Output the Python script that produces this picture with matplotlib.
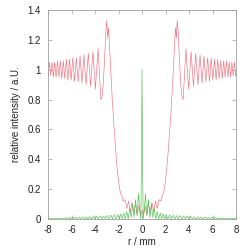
import matplotlib
matplotlib.use("Agg")
import matplotlib.pyplot as plt

# red curve: relative intensity vs r (mm)
red_r = [-8.00, -7.98, -7.87, -7.76, -7.65, -7.54, -7.43, -7.31, -7.19, -7.07,
         -6.95, -6.83, -6.70, -6.57, -6.44, -6.31, -6.17, -6.03, -5.89, -5.74,
         -5.59, -5.43, -5.27, -5.11, -4.94, -4.76, -4.57, -4.38, -4.18, -3.97,
         -3.74, -3.50, -3.40, -3.30, -3.20, -3.08, -3.00, -2.92, -2.86, -2.80,
         -2.70, -2.60, -2.50, -2.40, -2.30, -2.20, -2.10, -2.00, -1.90, -1.80,
         -1.70, -1.60, -1.45, -1.30, -1.15, -1.00, -0.85, -0.70, -0.55, -0.40,
         -0.25, -0.12,
         0.00,
         0.12, 0.25, 0.40, 0.55, 0.70, 0.85, 1.00, 1.15, 1.30, 1.45,
         1.60, 1.70, 1.80, 1.90, 2.00, 2.10, 2.20, 2.30, 2.40, 2.50,
         2.60, 2.70, 2.80, 2.86, 2.92, 3.00, 3.08, 3.20, 3.30, 3.40,
         3.50, 3.74, 3.97, 4.18, 4.38, 4.57, 4.76, 4.94, 5.11, 5.27,
         5.43, 5.59, 5.74, 5.89, 6.03, 6.17, 6.31, 6.44, 6.57, 6.70,
         6.83, 6.95, 7.07, 7.19, 7.31, 7.43, 7.54, 7.65, 7.76, 7.87,
         7.98, 8.00]
red_i = [0.97, 0.96, 1.05, 0.96, 1.05, 0.95, 1.05, 0.95, 1.06, 0.95,
         1.06, 0.94, 1.06, 0.94, 1.07, 0.93, 1.07, 0.93, 1.08, 0.92,
         1.08, 0.92, 1.09, 0.91, 1.10, 0.90, 1.11, 0.89, 1.12, 0.87,
         1.14, 0.80, 0.82, 0.90, 1.05, 1.25, 1.33, 1.21, 1.28, 1.22,
         1.06, 0.90, 0.76, 0.64, 0.53, 0.42, 0.33, 0.26, 0.20, 0.17,
         0.15, 0.12, 0.13, 0.07, 0.12, 0.05, 0.11, 0.04, 0.10, 0.03,
         0.09, 0.02,
         0.06,
         0.02, 0.09, 0.03, 0.10, 0.04, 0.11, 0.05, 0.12, 0.07, 0.13,
         0.12, 0.15, 0.17, 0.20, 0.26, 0.33, 0.42, 0.53, 0.64, 0.76,
         0.90, 1.06, 1.22, 1.28, 1.21, 1.33, 1.25, 1.05, 0.90, 0.82,
         0.80, 1.14, 0.87, 1.12, 0.89, 1.11, 0.90, 1.10, 0.91, 1.09,
         0.92, 1.08, 0.92, 1.08, 0.93, 1.07, 0.93, 1.07, 0.94, 1.06,
         0.94, 1.06, 0.95, 1.06, 0.95, 1.05, 0.95, 1.05, 0.96, 1.05,
         0.96, 0.97]

# green curve
green_r = [-8.00, -7.90, -7.75, -7.60, -7.45, -7.30, -7.15, -7.00, -6.85, -6.70,
           -6.55, -6.40, -6.25, -6.10, -5.95, -5.80, -5.65, -5.50, -5.35, -5.20,
           -5.05, -4.90, -4.75, -4.60, -4.45, -4.30, -4.15, -4.00, -3.85, -3.70,
           -3.55, -3.40, -3.25, -3.10, -2.95, -2.80, -2.65, -2.50, -2.35, -2.20,
           -2.05, -1.92, -1.80, -1.67, -1.55, -1.42, -1.30, -1.17, -1.05, -0.92,
           -0.80, -0.68, -0.55, -0.42, -0.30, -0.18, -0.10, -0.05,
           0.00,
           0.05, 0.10, 0.18, 0.30, 0.42, 0.55, 0.68, 0.80, 0.92, 1.05,
           1.17, 1.30, 1.42, 1.55, 1.67, 1.80, 1.92, 2.05, 2.20, 2.35,
           2.50, 2.65, 2.80, 2.95, 3.10, 3.25, 3.40, 3.55, 3.70, 3.85,
           4.00, 4.15, 4.30, 4.45, 4.60, 4.75, 4.90, 5.05, 5.20, 5.35,
           5.50, 5.65, 5.80, 5.95, 6.10, 6.25, 6.40, 6.55, 6.70, 6.85,
           7.00, 7.15, 7.30, 7.45, 7.60, 7.75, 7.90, 8.00]
green_i = [0.002, 0.0, 0.005, 0.0, 0.006, 0.0, 0.007, 0.0, 0.008, 0.0,
           0.009, 0.0, 0.010, 0.0, 0.011, 0.0, 0.012, 0.0, 0.013, 0.0,
           0.014, 0.0, 0.015, 0.0, 0.016, 0.0, 0.018, 0.0, 0.019, 0.0,
           0.020, 0.0, 0.022, 0.0, 0.024, 0.0, 0.026, 0.0, 0.028, 0.0,
           0.030, 0.00, 0.035, 0.00, 0.04, 0.00, 0.05, 0.00, 0.07, 0.01,
           0.10, 0.01, 0.13, 0.02, 0.17, 0.05, 0.00, 0.35,
           1.00,
           0.35, 0.00, 0.05, 0.17, 0.02, 0.13, 0.01, 0.10, 0.01, 0.07,
           0.00, 0.05, 0.00, 0.04, 0.00, 0.035, 0.00, 0.030, 0.0, 0.028,
           0.0, 0.026, 0.0, 0.024, 0.0, 0.022, 0.0, 0.020, 0.0, 0.019,
           0.0, 0.018, 0.0, 0.016, 0.0, 0.015, 0.0, 0.014, 0.0, 0.013,
           0.0, 0.012, 0.0, 0.011, 0.0, 0.010, 0.0, 0.009, 0.0, 0.008,
           0.0, 0.007, 0.0, 0.006, 0.0, 0.005, 0.0, 0.002]

x_ticks = [-8, -6, -4, -2, 0, 2, 4, 6, 8]
x_tick_labels = ["-8", "-6", "-4", "-2", "0", "2", "4", "6", "8"]
y_ticks = [0, 0.2, 0.4, 0.6, 0.8, 1.0, 1.2, 1.4]
y_tick_labels = ["0", "0.2", "0.4", "0.6", "0.8", "1", "1.2", "1.4"]

plt.rcParams['font.family'] = ['Liberation Sans', 'DejaVu Sans']
fig = plt.figure(figsize=(2.5, 2.5), dpi=100)
ax = fig.add_axes([0.192, 0.124, 0.752, 0.836])

ax.plot(red_r, red_i, color='#f07080', lw=0.45)
ax.plot(green_r, green_i, color='#50c050', lw=0.45)

ax.set_xlim(-8, 8)
ax.set_ylim(0, 1.4)
ax.set_xticks(x_ticks)
ax.set_xticklabels(x_tick_labels)
ax.set_yticks(y_ticks)
ax.set_yticklabels(y_tick_labels)
ax.tick_params(direction='in', length=3, width=0.5, color='#a0a0a0',
               labelsize=7, labelcolor='#222222', top=True, right=True, pad=5)
ax.tick_params(axis='x', pad=4)
for s in ax.spines.values():
    s.set_color('#a0a0a0')
    s.set_linewidth(0.6)
ax.set_xlabel('r / mm', fontsize=7, labelpad=2, color='#222222')
ax.set_ylabel('relative intensity / a.U.', fontsize=7, labelpad=5, color='#222222')

fig.savefig('out.png', dpi=100)
